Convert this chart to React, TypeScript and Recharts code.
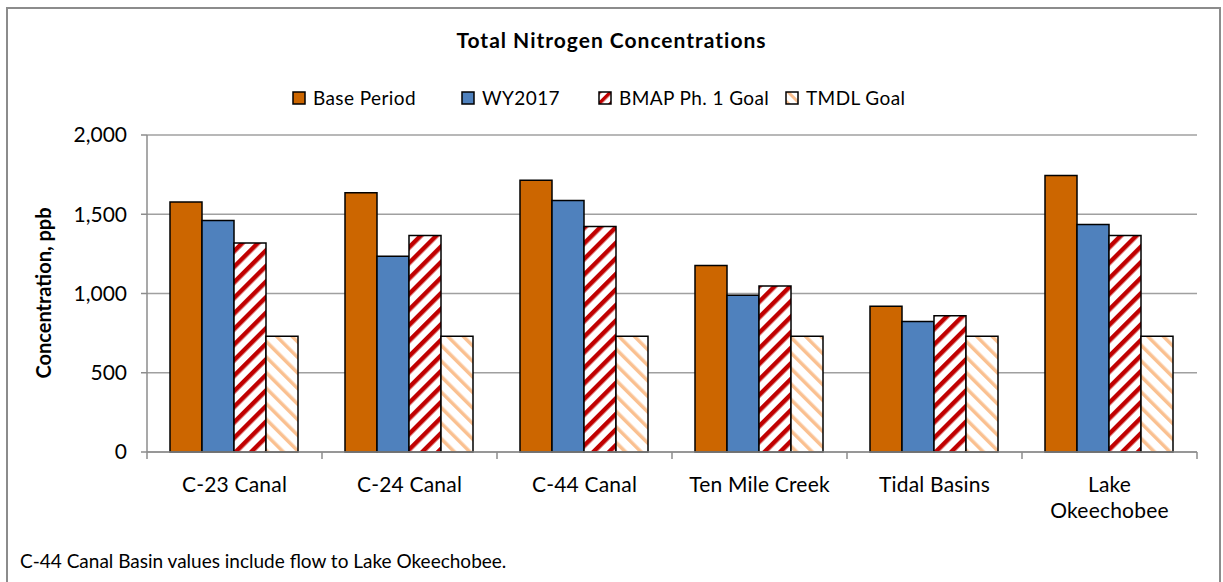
import React from 'react';
import { BarChart, Bar, XAxis, YAxis, CartesianGrid } from 'recharts';

const categories = ['C-23 Canal', 'C-24 Canal', 'C-44 Canal', 'Ten Mile Creek', 'Tidal Basins', 'Lake\nOkeechobee'];
const basePeriod = [1577, 1636, 1714, 1176, 919, 1745];
const wy2017 = [1461, 1235, 1587, 989, 824, 1435];
const bmapGoal = [1318, 1366, 1423, 1047, 860, 1366];
const tmdlGoal = [730, 730, 730, 730, 730, 730];
const yTicks = [0, 500, 1000, 1500, 2000];

const seriesNames = ['Base Period', 'WY2017', 'BMAP Ph. 1 Goal', 'TMDL Goal'];

const data = categories.map((name, i) => ({
  name,
  base: basePeriod[i],
  wy: wy2017[i],
  bmap: bmapGoal[i],
  tmdl: tmdlGoal[i],
}));

const W = 1223;
const H = 582;
const PLOT_LEFT = 147;
const PLOT_RIGHT = 26;
const BAND = (W - PLOT_LEFT - PLOT_RIGHT) / categories.length;
const FONT = 'Lato, "Open Sans", sans-serif';
const AXIS_GRAY = '#8c8c8c';
// left edge of each legend entry
const LEGEND_X = [292, 461, 598, 785];

const XTick = (props: any) => {
  const { x, y, payload, index } = props;
  const lines = String(payload.value).split('\n');
  const left = x - BAND / 2;
  const right = x + BAND / 2;
  return (
    <g>
      <line x1={left} x2={left} y1={y} y2={y + 7} stroke={AXIS_GRAY} strokeWidth={1.5} />
      {index === categories.length - 1 && (
        <line x1={right} x2={right} y1={y} y2={y + 7} stroke={AXIS_GRAY} strokeWidth={1.5} />
      )}
      <text x={x} y={y + 40} textAnchor="middle" fontSize={21} fill="#000" fontFamily={FONT} letterSpacing={0.2}>
        {lines.map((l, i) => (
          <tspan key={i} x={x} dy={i === 0 ? 0 : 26}>
            {l}
          </tspan>
        ))}
      </text>
    </g>
  );
};

const LegendIcon = ({ fill }: { fill: string }) => (
  <svg width={14} height={14} style={{ marginRight: 7, flex: 'none' }}>
    <rect x={1} y={1} width={12} height={12} fill={fill} stroke="#000" strokeWidth={1.5} />
  </svg>
);

const fills = ['#CC6600', '#4F81BD', 'url(#bmapStripe)', 'url(#tmdlStripe)'];
const legendFills = ['#CC6600', '#4F81BD', 'url(#bmapStripeSmall)', 'url(#tmdlStripeSmall)'];

export default function App() {
  return (
    <div style={{ position: 'absolute', left: 0, top: 0, width: W, height: H, background: '#fff', overflow: 'hidden', fontFamily: FONT }}>
      <svg width={0} height={0} style={{ position: 'absolute' }}>
        <defs>
          <pattern id="bmapStripe" patternUnits="userSpaceOnUse" width={11} height={11} patternTransform="rotate(45)">
            <rect x={0} y={0} width={11} height={11} fill="#fff" />
            <rect x={0} y={0} width={4.5} height={11} fill="#C00000" />
          </pattern>
          <pattern id="tmdlStripe" patternUnits="userSpaceOnUse" width={11} height={11} patternTransform="rotate(-45)">
            <rect x={0} y={0} width={11} height={11} fill="#fff" />
            <rect x={0} y={0} width={3.5} height={11} fill="#FAC090" />
          </pattern>
          <pattern id="bmapStripeSmall" patternUnits="userSpaceOnUse" width={8} height={8} patternTransform="rotate(45)">
            <rect x={0} y={0} width={8} height={8} fill="#fff" />
            <rect x={0} y={0} width={3.5} height={8} fill="#C00000" />
          </pattern>
          <pattern id="tmdlStripeSmall" patternUnits="userSpaceOnUse" width={8} height={8} patternTransform="rotate(-45)">
            <rect x={0} y={0} width={8} height={8} fill="#fff" />
            <rect x={0} y={0} width={3} height={8} fill="#FAC090" />
          </pattern>
        </defs>
      </svg>

      <div style={{ position: 'absolute', left: 6, top: 7, width: W - 8, height: H + 10, border: '2px solid #8c8c8c', boxSizing: 'border-box' }} />

      <BarChart
        width={W}
        height={H}
        data={data}
        margin={{ top: 135, right: PLOT_RIGHT, left: 0, bottom: 0 }}
        barCategoryGap={23}
        barGap={0}
      >
        <CartesianGrid vertical={false} stroke="#a0a0a0" strokeWidth={1.5} />
        <XAxis
          dataKey="name"
          height={130}
          tickLine={false}
          tickSize={0}
          tickMargin={0}
          stroke={AXIS_GRAY}
          strokeWidth={1.5}
          tick={<XTick />}
          interval={0}
        />
        <YAxis
          width={PLOT_LEFT}
          domain={[0, 2000]}
          ticks={yTicks}
          tickSize={6}
          tickMargin={14}
          stroke={AXIS_GRAY}
          strokeWidth={1.5}
          tick={{ fill: '#000', fontSize: 21, fontFamily: FONT }}
          tickFormatter={(v: number) => v.toLocaleString('en-US')}
        />
        <Bar dataKey="base" name={seriesNames[0]} fill={fills[0]} stroke="#000" strokeWidth={1.5} isAnimationActive={false} />
        <Bar dataKey="wy" name={seriesNames[1]} fill={fills[1]} stroke="#000" strokeWidth={1.5} isAnimationActive={false} />
        <Bar dataKey="bmap" name={seriesNames[2]} fill={fills[2]} stroke="#000" strokeWidth={1.5} isAnimationActive={false} />
        <Bar dataKey="tmdl" name={seriesNames[3]} fill={fills[3]} stroke="#000" strokeWidth={1.5} isAnimationActive={false} />
      </BarChart>

      <div style={{ position: 'absolute', left: 0, top: 27, width: W, textAlign: 'center', fontSize: 21, fontWeight: 700, letterSpacing: 1 }}>
        Total Nitrogen Concentrations
      </div>

      {seriesNames.map((n, i) => (
        <div
          key={n}
          style={{ position: 'absolute', left: LEGEND_X[i], top: 86, display: 'flex', alignItems: 'center', fontSize: 19, letterSpacing: 0.4, whiteSpace: 'nowrap' }}
        >
          <LegendIcon fill={legendFills[i]} />
          <span>{n}</span>
        </div>
      ))}

      <div
        style={{
          position: 'absolute',
          left: 43,
          top: 293,
          transform: 'translate(-50%, -50%) rotate(-90deg)',
          whiteSpace: 'nowrap',
          fontSize: 20,
          fontWeight: 700,
        }}
      >
        Concentration, ppb
      </div>

      <div style={{ position: 'absolute', left: 20, top: 549, fontSize: 19 }}>
        C-44 Canal Basin values include flow to Lake Okeechobee.
      </div>
    </div>
  );
}
